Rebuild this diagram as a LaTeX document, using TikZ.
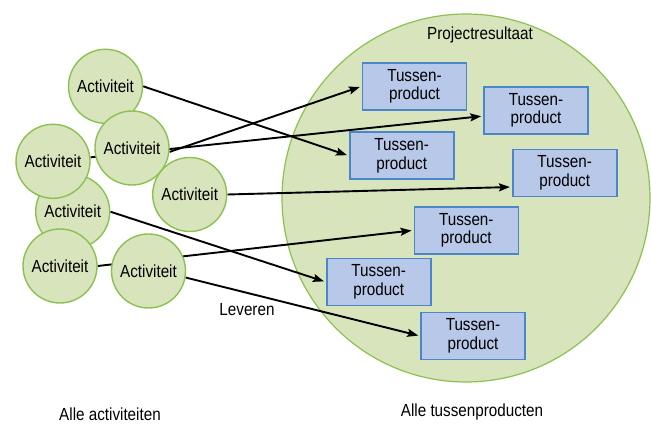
\documentclass[tikz,border=0pt]{standalone}
\usepackage{fontspec}
\setmainfont{Liberation Sans}[FakeStretch=0.87]
\usetikzlibrary{arrows.meta,backgrounds}
\definecolor{actFill}{HTML}{D8E4BC}
\definecolor{actLine}{HTML}{8CC152}
\definecolor{tpFill}{HTML}{B8C8E8}
\definecolor{tpLine}{HTML}{4A86C8}

\begin{document}
\begin{tikzpicture}[x=1pt,y=-1pt,every node/.style={font=\fontsize{17.5}{18.5}\selectfont},
  >={Stealth[length=11pt,width=8pt,inset=2pt]},
  act/.style={circle,draw=actLine,line width=1.4pt,fill=actFill,minimum size=74pt,inner sep=0pt},
  tp/.style={draw=tpLine,line width=1.6pt,fill=tpFill,minimum width=104pt,minimum height=47pt,inner sep=0pt,align=center},
  lever/.style={->,line width=1.9pt,shorten >=2pt}]
  \useasboundingbox (0,0) rectangle (651,425);
  % activiteiten (order = stacking order)
  \foreach \n/\x/\y in {1/105.5/86.3, 2/132/148, 4/72.7/211.7, 3/53/161.3, 6/60/266, 7/148.5/271, 5/189.7/194.5}
    \node[act] (a\n) at (\x,\y) {Activiteit};
  % tussenproducten
  \foreach \n/\x/\y in {1/414.5/86.3, 2/536/110.5, 3/401.7/155.8, 4/564.7/173, 5/466.3/230.3, 6/378.7/282, 7/473/336}
    \node[tp] (t\n) at (\x,\y) {Tussen-\\product};
  \node (proj) at (480,35) {Projectresultaat};
  \node (lev) at (247,310) {Leveren};
  \node (allact) at (110,414) {Alle activiteiten};
  \node (alltp) at (472,412) {Alle tussenproducten};
  \begin{scope}[on background layer]
    \node[circle,draw=actLine,line width=1.2pt,fill=actFill,minimum size=368pt] (res) at (466,198) {};
    \draw[lever] (a1.east) -- (t3.west);
    \draw[lever] (a2.-6) -- (t1.west);
    \draw[lever] (a3) -- (t2);
    \draw[lever] (a5.east) -- ([yshift=-14pt]t4.west);
    \draw[lever] (a4.east) -- (t6.west);
    \draw[lever] (a6.east) -- (t5.west);
    \draw[lever] (a7.-10) -- (t7.west);
  \end{scope}
\end{tikzpicture}
\end{document}
